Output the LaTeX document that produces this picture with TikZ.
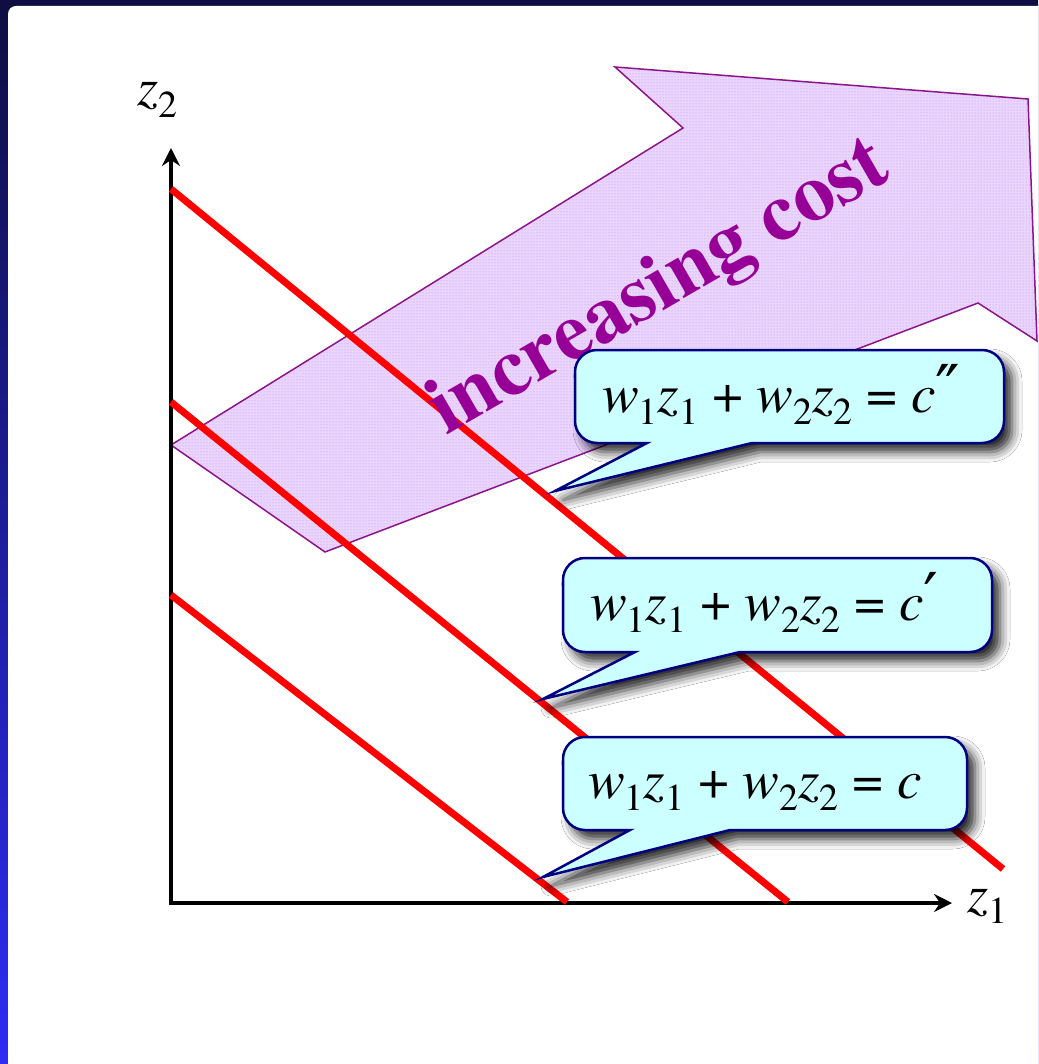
\documentclass[tikz,border=0pt]{standalone}
\usepackage{fontspec}
\setmainfont{TeX Gyre Termes}
\newfontfamily\primefont{DejaVu Serif}
\usetikzlibrary{arrows.meta,patterns,shadows.blur}
\definecolor{framenavy}{RGB}{14,14,66}
\definecolor{frameblue}{RGB}{45,45,245}
\definecolor{arrowborder}{RGB}{140,20,140}
\definecolor{arrowfill}{RGB}{234,214,252}
\definecolor{arrowdots}{RGB}{192,132,248}
\definecolor{inctext}{RGB}{150,0,150}
\definecolor{calloutfill}{RGB}{204,255,255}
\definecolor{calloutborder}{RGB}{0,0,128}
\definecolor{pureRed}{RGB}{255,0,0}
\tikzset{
  redline/.style={draw=pureRed, line width=7pt},
  axisline/.style={line width=4.5pt, line join=miter,
    {Stealth[length=18pt,width=18pt,inset=6pt]}-{Stealth[length=18pt,width=18pt,inset=6pt]}},
  callbox/.style={fill=calloutfill, draw=calloutborder, line width=2.5pt,
    blur shadow={shadow xshift=8pt,shadow yshift=-9pt,shadow blur radius=10pt,shadow opacity=85}},
  eqtext/.style={anchor=base west, inner sep=0pt, font=\fontsize{55}{60}\selectfont\itshape},
  axlabel/.style={anchor=base west, inner sep=0pt, font=\fontsize{54}{58}\selectfont\itshape},
}
\newcommand\eqsub[1]{\raisebox{-0.22em}{\fontsize{38}{38}\selectfont\upshape #1}}
\newcommand\eqprime[1]{{\primefont\upshape\fontsize{66}{66}\selectfont #1}}
\newcommand\mycallout[8]{% L T R B t1 tipx tipy t2
  \pgfmathsetmacro\cwA{#1+22}%
  \pgfmathsetmacro\cwB{#3-22}%
  \pgfmathsetmacro\cwC{#2+22}%
  \pgfmathsetmacro\cwD{#4-22}%
  \pgfmathsetmacro\cwE{#1+9.86}%
  \pgfmathsetmacro\cwF{#3-9.86}%
  \pgfmathsetmacro\cwG{#2+9.86}%
  \pgfmathsetmacro\cwH{#4-9.86}%
  \path[callbox] (\cwA,#2) -- (\cwB,#2) .. controls (\cwF,#2) and (#3,\cwG) .. (#3,\cwC)
    -- (#3,\cwD) .. controls (#3,\cwH) and (\cwF,#4) .. (\cwB,#4)
    -- (#8,#4) -- (#6,#7) -- (#5,#4) -- (\cwA,#4)
    .. controls (\cwE,#4) and (#1,\cwH) .. (#1,\cwD)
    -- (#1,\cwC) .. controls (#1,\cwG) and (\cwE,#2) .. (\cwA,#2) -- cycle;
}
\begin{document}
\begin{tikzpicture}[x=1pt,y=-1pt]
\useasboundingbox (0,0) rectangle (1038,1064);
\clip (0,0) rectangle (1038,1064);
% frame
\fill[top color=framenavy, bottom color=frameblue] (0,0) rectangle (1038,1064);
\fill[white, rounded corners=8pt] (8,6) rectangle (1060,1090);
% increasing-cost arrow
\coordinate (aA) at (171,445);
\coordinate (aB) at (325,552);
\coordinate (aC) at (978,303);
\coordinate (aD) at (1037,341);
\coordinate (aE) at (1028,99);
\coordinate (aF) at (615,67);
\coordinate (aG) at (683,128);
\fill[arrowfill] (aA) -- (aB) -- (aC) -- (aD) -- (aE) -- (aF) -- (aG) -- cycle;
\fill[pattern=dots, pattern color=arrowdots] (aA) -- (aB) -- (aC) -- (aD) -- (aE) -- (aF) -- (aG) -- cycle;
\draw[arrowborder, line width=1.5pt, line join=miter] (aA) -- (aB) -- (aC) -- (aD) -- (aE) -- (aF) -- (aG) -- cycle;
% axes
\coordinate (O) at (171,903);
\coordinate (ytop) at (171,148);
\coordinate (xend) at (952,903);
\draw[axisline] (ytop) -- (O) -- (xend);
% red lines
\coordinate (l1a) at (171,189);
\coordinate (l1b) at (1003,869);
\coordinate (l2a) at (171,402);
\coordinate (l2b) at (788,902);
\coordinate (l3a) at (171,595);
\coordinate (l3b) at (567,902);
\draw[redline] (l1a) -- (l1b);
\draw[redline] (l2a) -- (l2b);
\draw[redline] (l3a) -- (l3b);
% text
\node[anchor=base west, rotate=30, inner sep=0pt, text=inctext,
  font=\fontsize{82}{82}\selectfont\bfseries] (inc) at (446,436) {increasing cost};
% callouts
\mycallout{575}{350}{1004}{443}{647}{555}{491}{752}
\mycallout{563}{558}{992}{652}{635}{543}{699}{740}
\mycallout{563}{737}{967}{830}{630}{543}{877}{730}
\node[eqtext] (eq3) at (602,412) {w\eqsub{1}z\eqsub{1} {\upshape +} w\eqsub{2}z\eqsub{2} {\upshape =} c\eqprime{″}};
\node[eqtext] (eq2) at (590,620) {w\eqsub{1}z\eqsub{1} {\upshape +} w\eqsub{2}z\eqsub{2} {\upshape =} c\eqprime{′}};
\node[eqtext] (eq1) at (588,798) {w\eqsub{1}z\eqsub{1} {\upshape +} w\eqsub{2}z\eqsub{2} {\upshape =} c};
% axis labels
\node[axlabel] (z2) at (137,106) {z\eqsub{2}};
\node[axlabel] (z1) at (967,912) {z\eqsub{1}};
\end{tikzpicture}
\end{document}
